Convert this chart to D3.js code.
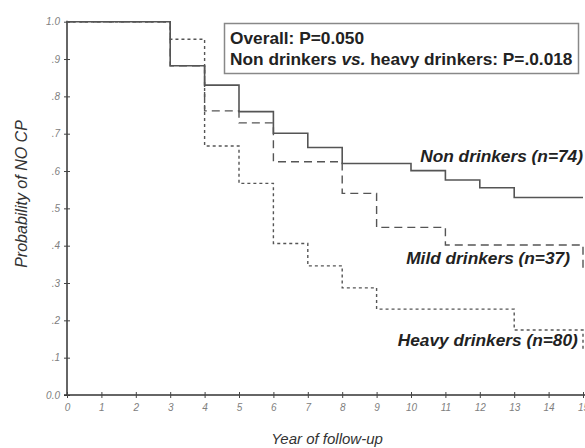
<!DOCTYPE html>
<html>
<head>
<meta charset="utf-8">
<script src="https://cdn.jsdelivr.net/npm/d3@7"></script>
<style>
  body { margin: 0; background: #fff; }
  svg { display: block; font-family: "Liberation Sans", Arial, sans-serif; }
</style>
</head>
<body>
<div id="chart"></div>
<script>
// Kaplan-Meier steps
var nonTimes = [0, 3, 4, 5, 6, 7, 8, 10, 11, 12, 13, 15];
var nonSurv = [1.0, 0.882, 0.830, 0.759, 0.701, 0.663, 0.620, 0.601, 0.576, 0.555, 0.529, 0.529];

var mildTimes = [0, 3, 4, 5, 6, 8, 9, 11, 15];
var mildSurv = [1.0, 0.882, 0.761, 0.729, 0.625, 0.540, 0.449, 0.402, 0.340];

var heavyTimes = [0, 3, 4, 5, 6, 7, 8, 9, 13, 15];
var heavySurv = [1.0, 0.953, 0.667, 0.567, 0.406, 0.346, 0.287, 0.230, 0.174, 0.12];

var xTicks = d3.range(0, 16);
var yTicks = d3.range(0, 11).map(d => d / 10);

var seriesNames = ["Non drinkers (n=74)", "Mild drinkers (n=37)", "Heavy drinkers (n=80)"];
var labelYears = [15.0, 14.62, 14.85];
var labelValues = [0.624, 0.351, 0.131];

var w = 585, h = 448;

var svg = d3.select("#chart").append("svg")
    .attr("width", w)
    .attr("height", h);

var xScale = d3.scaleLinear().domain([0, 15]).range([67, 583]);
var yScale = d3.scaleLinear().domain([0, 1]).range([395, 21.7]);

// y axis
var yAxis = svg.append("g")
    .attr("transform", "translate(67,0)")
    .call(d3.axisLeft(yScale)
        .tickValues(yTicks)
        .tickSize(3)
        .tickPadding(4)
        .tickFormat(d => d === 0 ? "0.0" : d === 1 ? "1.0" : d3.format(".1f")(d).replace("0.", ".")));

yAxis.select(".domain").attr("stroke", "#333").attr("stroke-width", 1.5)
    .attr("d", `M0,${yScale(1) - 1}V${yScale(0)}`);
yAxis.selectAll(".tick line").attr("x1", 3).attr("x2", -3).attr("stroke", "#444");
yAxis.selectAll(".tick text")
    .attr("fill", "#808080")
    .style("font-style", "italic")
    .style("font-size", "10px");

// x axis
var xAxis = svg.append("g")
    .attr("transform", `translate(0,${yScale(0)})`)
    .call(d3.axisBottom(xScale)
        .tickValues(xTicks)
        .tickSize(3)
        .tickPadding(6)
        .tickFormat(d3.format("d")));

xAxis.select(".domain").attr("stroke", "#333").attr("stroke-width", 1.5)
    .attr("d", `M${xScale(0) - 3},0H${w}`);
xAxis.selectAll(".tick line").attr("y1", -3).attr("y2", 3).attr("stroke", "#444");
xAxis.selectAll(".tick text")
    .attr("fill", "#808080")
    .style("font-style", "italic")
    .style("font-size", "10px");

// survival curves
var stepLine = d3.line()
    .x(d => xScale(d[0]))
    .y(d => yScale(d[1]))
    .curve(d3.curveStepAfter);

var curves = [
    { times: nonTimes, surv: nonSurv, dash: null, width: 1.6 },
    { times: mildTimes, surv: mildSurv, dash: "8,5", width: 1.4 },
    { times: heavyTimes, surv: heavySurv, dash: "3,3", width: 1.4 }
];

svg.selectAll(".km")
    .data(curves)
    .enter().append("path")
    .attr("class", "km")
    .attr("d", c => stepLine(c.times.map((t, i) => [t, c.surv[i]])))
    .attr("fill", "none")
    .attr("stroke", "#555")
    .attr("stroke-width", c => c.width)
    .attr("stroke-dasharray", c => c.dash);

// curve labels
svg.selectAll(".curve-label")
    .data(seriesNames)
    .enter().append("text")
    .attr("class", "curve-label")
    .attr("x", (d, i) => xScale(labelYears[i]))
    .attr("y", (d, i) => yScale(labelValues[i]))
    .attr("text-anchor", "end")
    .attr("fill", "#222")
    .style("font-size", "17.3px")
    .style("font-weight", "bold")
    .style("font-style", "italic")
    .text(d => d);

// p-value box
svg.append("rect")
    .attr("x", 224.5)
    .attr("y", 23.5)
    .attr("width", 354)
    .attr("height", 50)
    .attr("fill", "#fff")
    .attr("stroke", "#888")
    .attr("stroke-width", 1.5);

svg.append("text")
    .attr("x", 230)
    .attr("y", 44)
    .attr("fill", "#222")
    .style("font-size", "17.3px")
    .style("font-weight", "bold")
    .text("Overall: P=0.050");

var line2 = svg.append("text")
    .attr("x", 230)
    .attr("y", 65)
    .attr("fill", "#222")
    .style("font-size", "17.3px")
    .style("font-weight", "bold");
line2.append("tspan").text("Non drinkers ");
line2.append("tspan").style("font-style", "italic").text("vs.");
line2.append("tspan").text(" heavy drinkers: P=.0.018");

// axis titles
svg.append("text")
    .attr("transform", "translate(27,194) rotate(-90)")
    .attr("text-anchor", "middle")
    .attr("fill", "#333")
    .style("font-size", "16px")
    .style("font-style", "italic")
    .text("Probability of NO CP");

svg.append("text")
    .attr("x", 327)
    .attr("y", 444)
    .attr("text-anchor", "middle")
    .attr("fill", "#333")
    .style("font-size", "15px")
    .style("font-style", "italic")
    .text("Year of follow-up");
</script>
</body>
</html>
